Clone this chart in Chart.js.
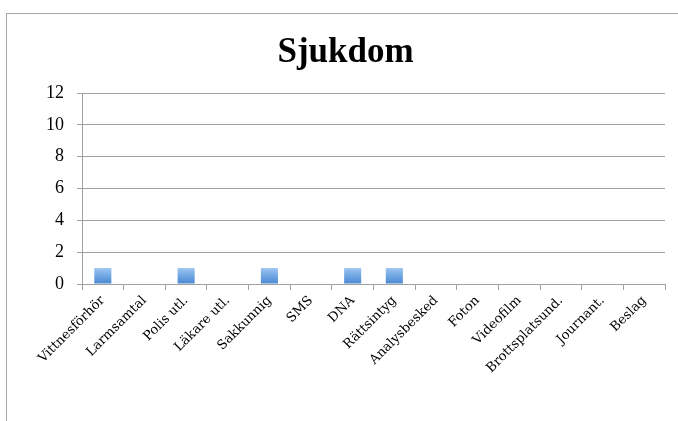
<!DOCTYPE html>
<html>
<head>
<meta charset="utf-8">
<script src="https://cdn.jsdelivr.net/npm/chart.js@4"></script>
<style>
  html, body { margin: 0; padding: 0; background: #fff; }
  #wrap { position: relative; width: 678px; height: 421px; overflow: hidden; }
  #frame { position: absolute; left: 6px; top: 13px; width: 800px; height: 600px; border: 1px solid #a6a6a6; box-sizing: border-box; }
  #chart { position: absolute; left: 0; top: 0; }
</style>
</head>
<body>
<div id="wrap">
  <div id="frame"></div>
  <canvas id="chart" width="678" height="421"></canvas>
</div>
<script>
// data
const categories = ['Vittnesförhör', 'Larmsamtal', 'Polis utl.', 'Läkare utl.', 'Sakkunnig', 'SMS', 'DNA',
    'Rättsintyg', 'Analysbesked', 'Foton', 'Videofilm', 'Brottsplatsund.', 'Journant.', 'Beslag'];
const values = [1, 0, 1, 0, 1, 0, 1, 1, 0, 0, 0, 0, 0, 0];
const yTicks = [0, 2, 4, 6, 8, 10, 12];
const title = 'Sjukdom';

const serif = '"Liberation Serif", "DejaVu Serif", serif';
const gridColor = '#a0a0a0';

function barFill(context) {
    const chart = context.chart;
    const y = chart.scales.y;
    if (!y || !chart.chartArea) return '#5b9bd5';
    const g = chart.ctx.createLinearGradient(0, y.getPixelForValue(1), 0, y.getPixelForValue(0));
    g.addColorStop(0, '#9cc4f0');
    g.addColorStop(0.5, '#6fa6e4');
    g.addColorStop(1, '#4a88d0');
    return g;
}

document.addEventListener('DOMContentLoaded', function () {
    const ctx = document.getElementById('chart').getContext('2d');
    new Chart(ctx, {
        type: 'bar',
        data: {
            labels: categories,
            datasets: [{
                label: title,
                data: values,
                backgroundColor: barFill,
                borderWidth: 0,
                barPercentage: 0.41,
                categoryPercentage: 1
            }]
        },
        options: {
            responsive: false,
            animation: false,
            // left padding shifts the title centre to match the original
            layout: { padding: { left: 26, right: 13, top: 0, bottom: 0 } },
            plugins: {
                legend: { display: false },
                tooltip: { enabled: false },
                title: {
                    display: true,
                    text: title,
                    color: '#000',
                    font: { family: serif, size: 35, weight: 'bold' },
                    padding: { top: 32, bottom: 19 }
                }
            },
            scales: {
                x: {
                    grid: { drawOnChartArea: false, color: gridColor, tickLength: 6 },
                    border: { color: gridColor },
                    ticks: {
                        color: '#000',
                        font: { family: '"DejaVu Serif", serif', size: 13 },
                        minRotation: 45,
                        maxRotation: 45,
                        autoSkip: false,
                        padding: 3
                    },
                    afterFit: function (s) { s.height = 137; }
                },
                y: {
                    min: 0,
                    max: 12,
                    afterBuildTicks: function (s) { s.ticks = yTicks.map(v => ({ value: v })); },
                    grid: { color: gridColor, tickLength: 5 },
                    border: { color: gridColor },
                    ticks: {
                        color: '#000',
                        font: { family: serif, size: 18 },
                        padding: 13
                    },
                    afterFit: function (s) { s.width = 56; }
                }
            }
        }
    });
});
</script>
</body>
</html>
